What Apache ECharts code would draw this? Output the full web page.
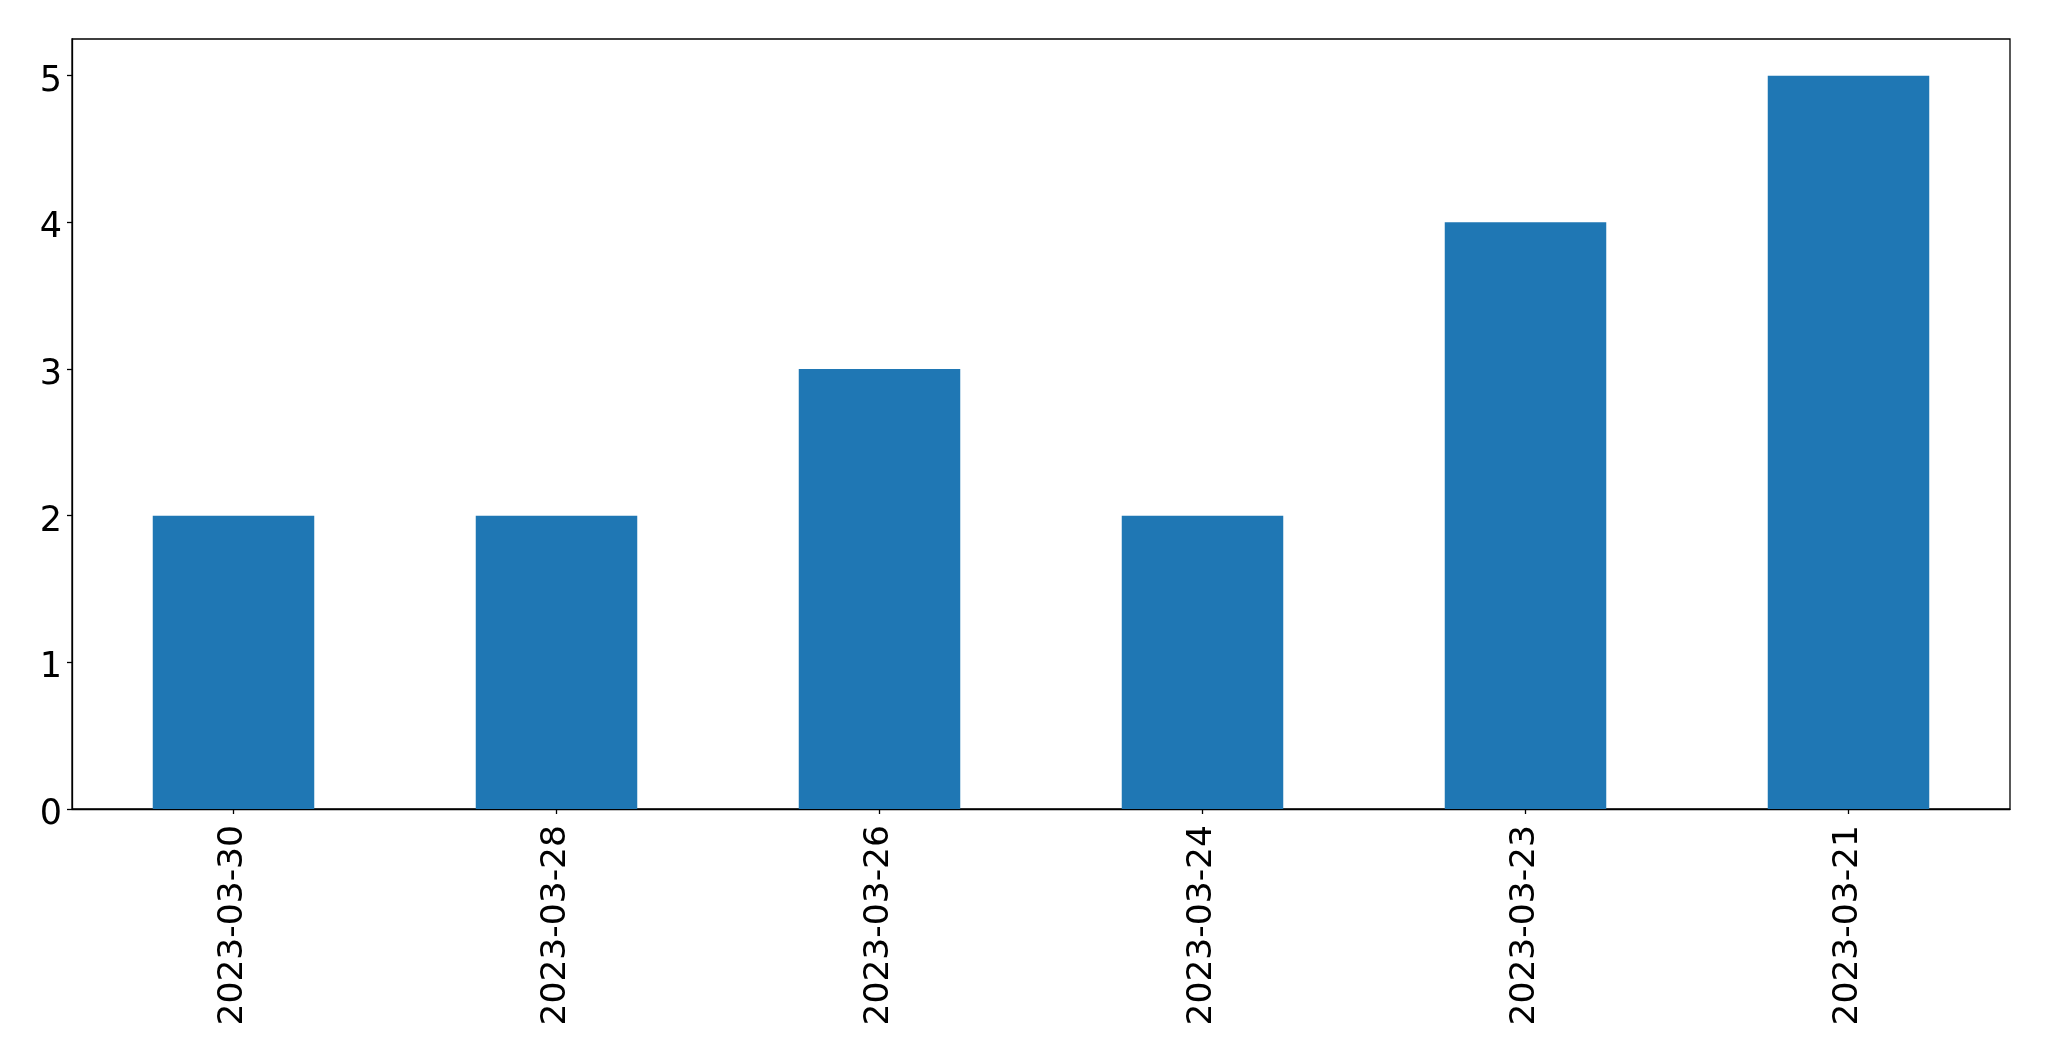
<!DOCTYPE html>
<html>
<head>
<meta charset="utf-8">
<script src="https://cdn.jsdelivr.net/npm/echarts@6/dist/echarts.min.js"></script>
<style>
  html, body { margin: 0; padding: 0; background: #fff; }
  #chart { width: 2049px; height: 1061px; }
</style>
</head>
<body>
<div id="chart"></div>
<script>
const categories = ['2023-03-30', '2023-03-28', '2023-03-26', '2023-03-24', '2023-03-23', '2023-03-21'];
const counts = [2, 2, 3, 2, 4, 5];
const yTicks = [0, 1, 2, 3, 4, 5];

const chart = echarts.init(document.getElementById('chart'), null, { renderer: 'canvas' });
const font = 'DejaVu Sans';
chart.setOption({
  animation: false,
  backgroundColor: '#ffffff',
  grid: {
    left: 72, right: 39, top: 39, bottom: 252,
    show: true, borderColor: '#000000', borderWidth: 1.3,
    containLabel: false
  },
  xAxis: {
    type: 'category',
    data: categories,
    boundaryGap: true,
    axisLine: { show: true, lineStyle: { color: '#000', width: 1.3 } },
    axisTick: { show: true, alignWithLabel: true, length: 5, lineStyle: { color: '#000', width: 1.3 } },
    axisLabel: { rotate: 90, margin: 16, color: '#000', fontSize: 34.5, fontFamily: font, interval: 0 },
    splitLine: { show: false }
  },
  yAxis: {
    type: 'value',
    min: 0, max: 5.25, interval: 1,
    axisLine: { show: true, lineStyle: { color: '#000', width: 1.3 } },
    axisTick: { show: true, length: 5, lineStyle: { color: '#000', width: 1.3 }, customValues: yTicks },
    axisLabel: { color: '#000', fontSize: 35, fontFamily: font, margin: 10, verticalAlign: 'top', lineHeight: 12, customValues: yTicks },
    splitLine: { show: false }
  },
  series: [{
    type: 'bar',
    data: counts,
    barWidth: '50%',
    itemStyle: { color: '#1f77b4' }
  }]
});
</script>
</body>
</html>
